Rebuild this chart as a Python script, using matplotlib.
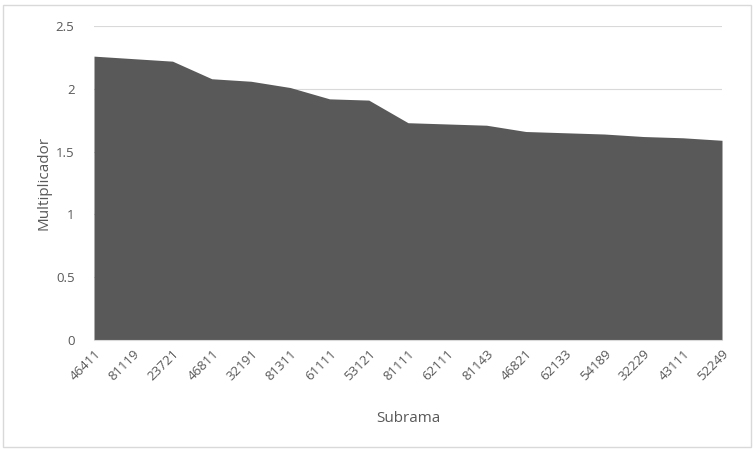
import matplotlib.pyplot as plt
from matplotlib.patches import Rectangle

# Subrama codes and multiplier values
subramas = ["46411", "81119", "23721", "46811", "32191", "81311", "61111",
            "53121", "81111", "62111", "81143", "46821", "62133", "54189",
            "32229", "43111", "52249"]
multiplicador = [2.26, 2.24, 2.22, 2.08, 2.06, 2.01, 1.92, 1.91, 1.73,
                 1.72, 1.71, 1.66, 1.65, 1.64, 1.62, 1.61, 1.59]
y_ticks = [0, 0.5, 1, 1.5, 2, 2.5]
y_tick_labels = ["0", "0.5", "1", "1.5", "2", "2.5"]

text_color = "#595959"
plt.rcParams["font.family"] = ["Open Sans", "DejaVu Sans"]

fig = plt.figure(figsize=(7.54, 4.49), dpi=100)
ax = fig.add_axes([94 / 754, 1 - 340 / 449, (722 - 94) / 754, (340 - 26) / 449])

x = list(range(len(subramas)))
ax.fill_between(x, multiplicador, 0, color="#595959", linewidth=0, zorder=2)

ax.set_xlim(0, len(subramas) - 1)
ax.set_ylim(0, 2.5)
ax.set_yticks(y_ticks)
ax.set_yticklabels(y_tick_labels)
ax.set_xticks(x)
ax.set_xticklabels(subramas, rotation=45, ha="right", rotation_mode="anchor")

ax.grid(axis="y", color="#d9d9d9", linewidth=0.8, zorder=0)
for side in ["top", "right", "left"]:
    ax.spines[side].set_visible(False)
ax.spines["bottom"].set_color("#d9d9d9")
ax.tick_params(axis="both", length=0, labelsize=9.5, colors=text_color)
ax.tick_params(axis="y", pad=14)
ax.tick_params(axis="x", pad=5)

ax.set_ylabel("Multiplicador", fontsize=11, color=text_color, labelpad=3)
ax.set_xlabel("Subrama", fontsize=11, color=text_color, labelpad=20)

# light chart-area border
fig.patches.append(Rectangle((3 / 754, 2 / 449), 748 / 754, 442 / 449,
                             transform=fig.transFigure, fill=False,
                             edgecolor="#d9d9d9", linewidth=1))

fig.savefig("out.png", dpi=100)
